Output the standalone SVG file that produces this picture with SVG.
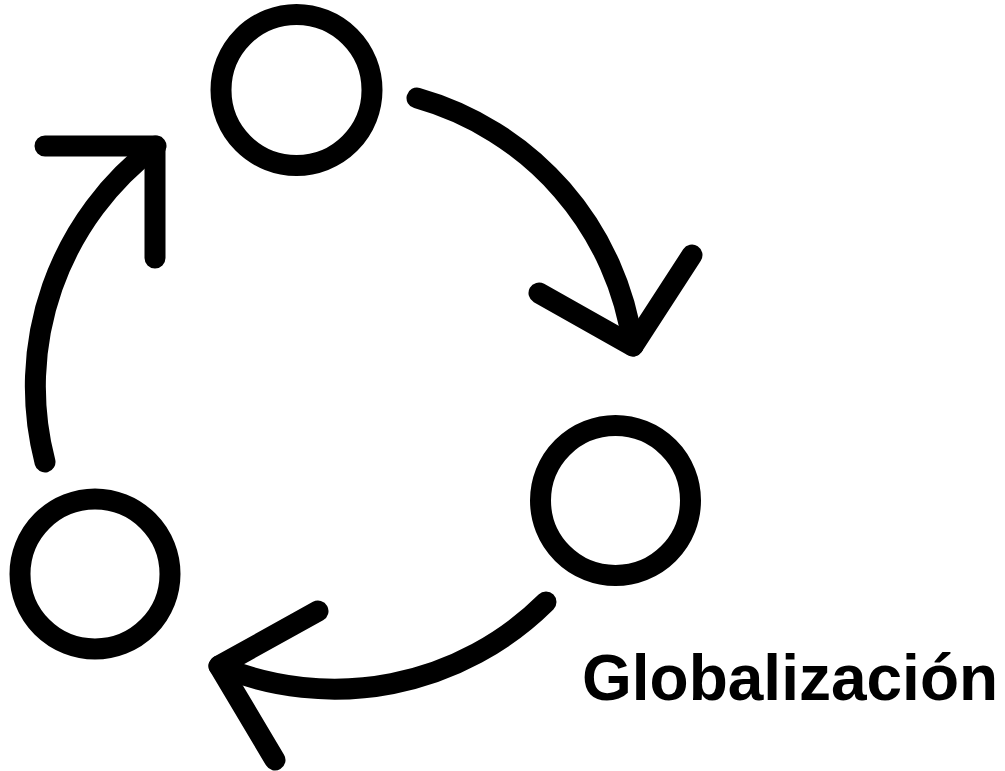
<svg xmlns="http://www.w3.org/2000/svg" width="1005" height="771" viewBox="0 0 1005 771">
<style>
.node{fill:none;stroke:#000;stroke-width:21}
.conn{fill:none;stroke:#000;stroke-width:21;stroke-linecap:round;stroke-linejoin:round}
.label{font-family:"Liberation Sans",Arial,sans-serif;font-weight:bold;font-size:64px;fill:#000}
</style>
<rect width="1005" height="771" fill="#fff"/>
<g id="node-top"><circle class="node" cx="296.5" cy="90" r="75.5"/></g>
<g id="node-right"><circle class="node" cx="615.5" cy="500.5" r="75"/></g>
<g id="node-left"><circle class="node" cx="95" cy="574" r="75"/></g>
<g id="connectors">
<path class="conn" d="M417,98 A300,300 0 0 1 633,346"/>
<polyline class="conn" points="539,293 633,346 692,255"/>
<path class="conn" d="M546,602 A300,300 0 0 1 219,666"/>
<polyline class="conn" points="318,611 219,666 275,760"/>
<path class="conn" d="M45,462 A300,300 0 0 1 156,146"/>
<polyline class="conn" points="45,146 155,146 155,258"/>
</g>
<g id="title"><text class="label" x="582" y="700">Globalización</text></g>
</svg>
